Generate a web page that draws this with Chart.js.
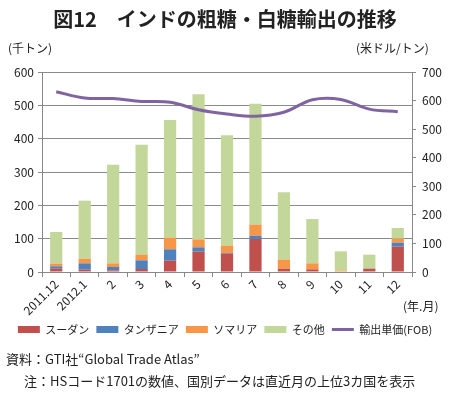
<!DOCTYPE html>
<html>
<head>
<meta charset="utf-8">
<script src="https://cdn.jsdelivr.net/npm/chart.js@4.4.1/dist/chart.umd.min.js"></script>
<style>
  body { margin: 0; background: #fff; font-family: "Noto Sans CJK JP", sans-serif; color: #222; }
  #wrap { position: relative; width: 450px; height: 393px; overflow: hidden; }
  #myChart { position: absolute; left: 0; top: 0; }
  .txt { position: absolute; white-space: nowrap; }
</style>
</head>
<body>
<div id="wrap">
  <canvas id="myChart" width="450" height="393"></canvas>
  <div class="txt" style="left:0;width:450px;top:4px;text-align:center;font-size:20px;font-weight:bold;">図12　インドの粗糖・白糖輸出の推移</div>
  <div class="txt" style="left:8px;top:39px;font-size:12px;">(千トン)</div>
  <div class="txt" style="left:356px;top:39px;font-size:12px;">(米ドル/トン)</div>
  <div class="txt" style="left:403px;top:297px;font-size:12px;">(年.月)</div>
  <div class="txt" style="left:6px;top:349px;font-size:13px;">資料：GTI社“Global Trade Atlas”</div>
  <div class="txt" style="left:24px;top:371px;font-size:13px;">注：HSコード1701の数値、国別データは直近月の上位3カ国を表示</div>
</div>
<script>
// months (year.month)
const months = ['2011.12', '2012.1', '2', '3', '4', '5', '6', '7', '8', '9', '10', '11', '12'];
// thousand tons
const sudan    = [10, 7, 5, 9, 34, 61, 56, 99, 10, 8, 0, 10, 76];
const tanzania = [7, 19, 10, 26, 34, 13, 2, 10, 0, 0, 0, 0, 12];
const somalia  = [8, 14, 11, 17, 35, 24, 21, 33, 27, 18, 4, 0, 12];
const others   = [95, 174, 296, 330, 353, 435, 331, 363, 202, 133, 58, 42, 32];
// export unit price FOB, USD/ton
const price = [631, 609, 607, 597, 594, 568, 553, 545, 559, 603, 604, 570, 561];

const leftTicks = [0, 100, 200, 300, 400, 500, 600];
const rightTicks = [0, 100, 200, 300, 400, 500, 600, 700];

const fontBase = { family: '"Noto Sans CJK JP", sans-serif', size: 12 };

function bar(label, data, color) {
    return {
        type: 'bar',
        label: label,
        data: data,
        backgroundColor: color,
        borderWidth: 0,
        stack: 's',
        yAxisID: 'y',
        order: 2,
        barPercentage: 0.43,
        categoryPercentage: 1
    };
}

const ctx = document.getElementById('myChart').getContext('2d');
const myChart = new Chart(ctx, {
    data: {
        labels: months,
        datasets: [
            bar('スーダン', sudan, '#C0504D'),
            bar('タンザニア', tanzania, '#4F81BD'),
            bar('ソマリア', somalia, '#F79646'),
            bar('その他', others, '#C4D79B'),
            {
                type: 'line',
                label: '輸出単価(FOB)',
                data: price,
                borderColor: '#8064A2',
                backgroundColor: '#8064A2',
                borderWidth: 3,
                pointRadius: 0,
                tension: 0.35,
                yAxisID: 'y2',
                order: 1
            }
        ]
    },
    options: {
        responsive: false,
        animation: false,
        layout: { padding: { top: 72, left: 0, right: 0, bottom: 48 } },
        plugins: {
            tooltip: { enabled: false },
            legend: {
                position: 'bottom',
                labels: {
                    usePointStyle: true,
                    pointStyleWidth: 22,
                    boxHeight: 7,
                    padding: 7,
                    color: '#222',
                    font: { family: fontBase.family, size: 11 },
                    sort: (a, b) => a.datasetIndex - b.datasetIndex,
                    generateLabels: function(chart) {
                        const items = Chart.defaults.plugins.legend.labels.generateLabels(chart);
                        items.forEach(it => {
                            const ds = chart.data.datasets[it.datasetIndex];
                            it.pointStyle = ds.type === 'line' ? 'line' : 'rect';
                            if (ds.type === 'line') { it.lineWidth = 3; it.strokeStyle = '#8064A2'; }
                            else { it.lineWidth = 0; }
                        });
                        return items;
                    }
                }
            }
        },
        scales: {
            x: {
                stacked: true,
                grid: { drawOnChartArea: false, offset: true, tickLength: 5, color: '#888' },
                border: { color: '#888' },
                ticks: { maxRotation: 45, minRotation: 45, color: '#222', font: fontBase, padding: 0 },
                afterFit: function(scale) { scale.height = 45; }
            },
            y: {
                stacked: true,
                position: 'left',
                min: 0, max: 600,
                afterBuildTicks: function(scale) { scale.ticks = leftTicks.map(v => ({ value: v })); },
                grid: { color: '#8a8a8a', tickLength: 4 },
                border: { color: '#888' },
                ticks: { color: '#222', font: fontBase, padding: 4 },
                afterFit: function(scale) { scale.width = 42; }
            },
            y2: {
                position: 'right',
                min: 0, max: 700,
                afterBuildTicks: function(scale) { scale.ticks = rightTicks.map(v => ({ value: v })); },
                grid: { drawOnChartArea: false, color: '#888', tickLength: 4 },
                border: { color: '#888' },
                ticks: { color: '#222', font: fontBase, padding: 6 },
                afterFit: function(scale) { scale.width = 38; }
            }
        }
    }
});
</script>
</body>
</html>
